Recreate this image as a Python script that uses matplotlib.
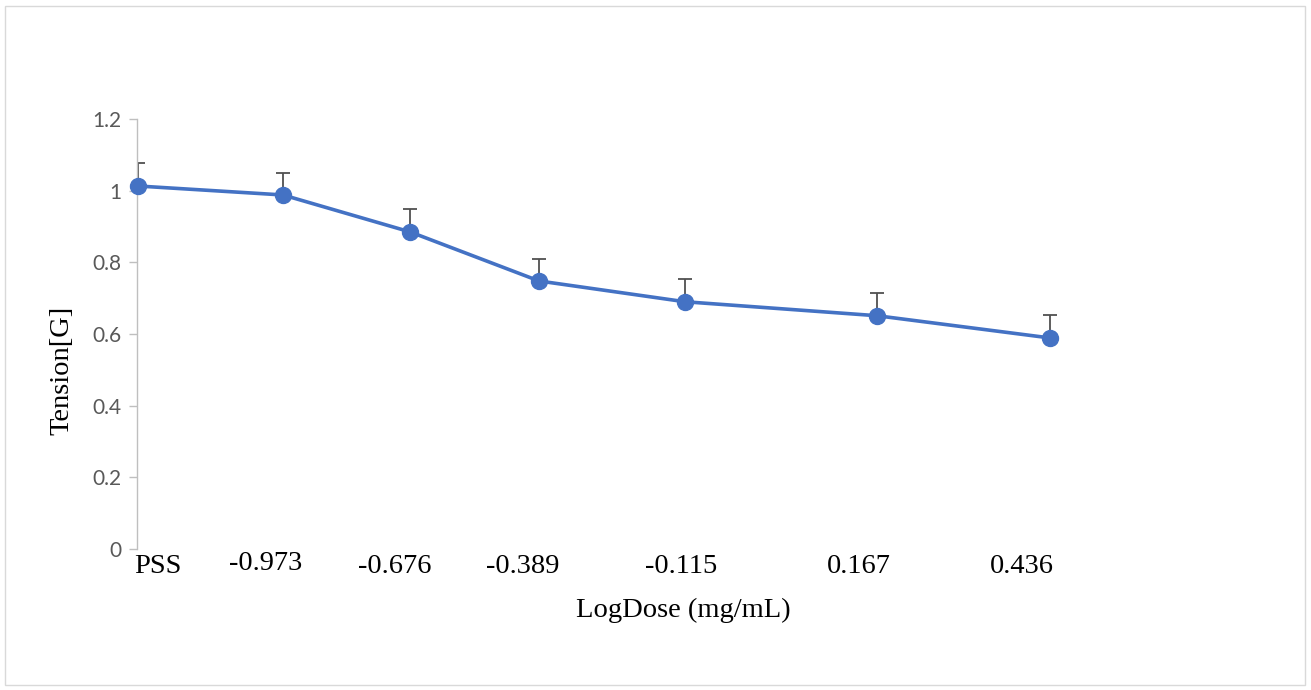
import matplotlib
matplotlib.use('Agg')
import matplotlib.pyplot as plt
import matplotlib.transforms as mtransforms
from matplotlib.patches import Rectangle
import numpy as np

# dose groups, as labelled under each point
doses   = ['PSS', '-0.973', '-0.676', '-0.389', '-0.115', '0.167', '0.436']
# horizontal position of each point (the chart spaces them unevenly)
x_vals  = [1, 146, 273, 402, 548, 740, 913]
tension = [1.013, 0.988, 0.885, 0.748, 0.690, 0.651, 0.589]
err_up  = [0.064, 0.061, 0.064, 0.062, 0.064, 0.064, 0.064]
y_ticks = [0, 0.2, 0.4, 0.6, 0.8, 1, 1.2]
y_tick_labels = ['0', '0.2', '0.4', '0.6', '0.8', '1', '1.2']

LINE_C = '#4472c4'
ERR_C  = '#505050'
AXIS_C = '#bfbfbf'
TICK_C = '#595959'
SERIF  = 'Liberation Serif'

W, H = 1311, 690
fig = plt.figure(figsize=(W / 100, H / 100), dpi=100)
fig.patch.set_facecolor('white')

# plot area in pixels: left 137, right 1100, top 119, bottom 549
ax = fig.add_axes([137 / W, 1 - 549 / H, (1100 - 137) / W, (549 - 119) / H])
ax.set_xlim(0, 963)
ax.set_ylim(0, 1.2)

ax.errorbar(x_vals, tension, yerr=[np.zeros(len(err_up)), err_up],
            fmt='none', ecolor=ERR_C, elinewidth=1.3, capsize=5,
            capthick=1.3, zorder=2)
ax.plot(x_vals, tension, color=LINE_C, lw=2.6, marker='o',
        markersize=11.5, markerfacecolor=LINE_C, markeredgecolor=LINE_C,
        zorder=3, clip_on=False)

for s in ['top', 'right', 'bottom']:
    ax.spines[s].set_visible(False)
ax.spines['left'].set_color(AXIS_C)
ax.spines['left'].set_linewidth(1.0)

ax.set_xticks([])
ax.set_yticks(y_ticks)
ax.set_yticklabels(y_tick_labels, family='Lato', fontsize=15, color=TICK_C)
ax.tick_params(axis='y', length=6, width=1.0, color=AXIS_C, pad=5)

# the dose labels are free text boxes sitting under the points
label_x = [21, 129, 258, 386, 544, 722, 885]
label_y = [-0.056, -0.049, -0.056, -0.056, -0.056, -0.056, -0.056]
trans = mtransforms.blended_transform_factory(ax.transData, ax.transAxes)
for lx, ly, txt in zip(label_x, label_y, doses):
    ax.text(lx, ly, txt, transform=trans, ha='center', va='baseline',
            family=SERIF, fontsize=20.5, color='black')

fig.text(683 / W, 1 - 617 / H, 'LogDose (mg/mL)', ha='center', va='baseline',
         family=SERIF, fontsize=20.5, color='black')
fig.text(62 / W, 1 - 370 / H, 'Tension[G]', ha='center', va='center',
         rotation=90, family=SERIF, fontsize=20.5, color='black')

# chart area border
fig.patches.append(Rectangle((5 / W, 5 / H), (W - 11) / W, (H - 11) / H,
                             transform=fig.transFigure, fill=False,
                             edgecolor='#d9d9d9', lw=1.0))

fig.savefig('out.png', dpi=100)
